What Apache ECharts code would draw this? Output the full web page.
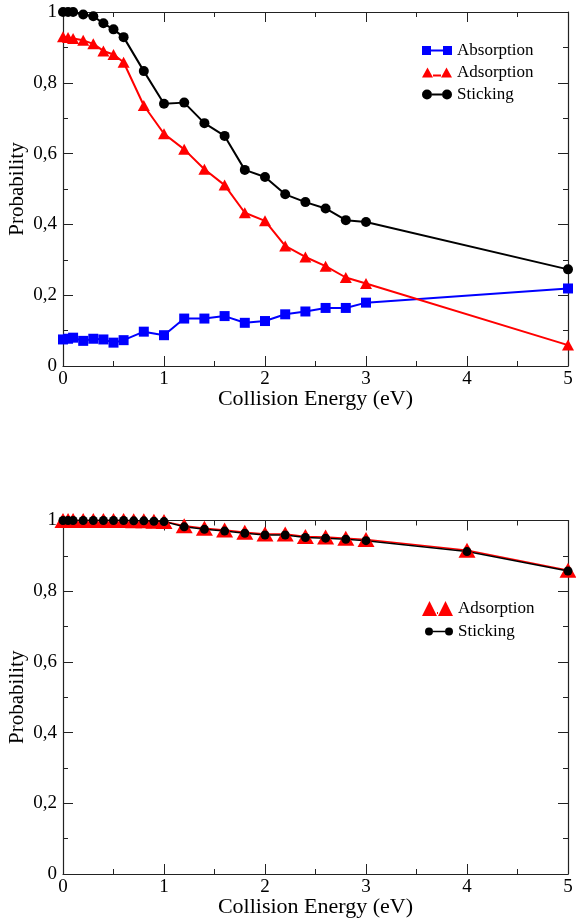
<!DOCTYPE html>
<html>
<head>
<meta charset="utf-8">
<script src="https://cdn.jsdelivr.net/npm/echarts@6/dist/echarts.min.js"></script>
<style>
  html, body { margin: 0; padding: 0; background: #fff; }
  #chart { width: 576px; height: 918px; }
</style>
</head>
<body>
<div id="chart"></div>
<script>
// top panel
const energiesTop = [0, 0.05, 0.1, 0.2, 0.3, 0.4, 0.5, 0.6, 0.8, 1.0, 1.2, 1.4, 1.6, 1.8, 2.0, 2.2, 2.4, 2.6, 2.8, 3.0, 5.0]
const absorptionTop = [0.075, 0.077, 0.080, 0.071, 0.077, 0.075, 0.066, 0.073, 0.097, 0.087, 0.134, 0.134, 0.141, 0.122, 0.127, 0.146, 0.154, 0.164, 0.164, 0.179, 0.219]
const adsorptionTop = [0.930, 0.928, 0.925, 0.920, 0.910, 0.890, 0.880, 0.858, 0.736, 0.656, 0.612, 0.556, 0.511, 0.433, 0.410, 0.339, 0.308, 0.282, 0.250, 0.233, 0.059]
const stickingTop = [1.0, 1.0, 1.0, 0.993, 0.988, 0.968, 0.951, 0.929, 0.833, 0.741, 0.744, 0.686, 0.650, 0.554, 0.534, 0.485, 0.463, 0.445, 0.412, 0.407, 0.273]

// bottom panel
const energiesBottom = [0, 0.05, 0.1, 0.2, 0.3, 0.4, 0.5, 0.6, 0.7, 0.8, 0.9, 1.0, 1.2, 1.4, 1.6, 1.8, 2.0, 2.2, 2.4, 2.6, 2.8, 3.0, 4.0, 5.0]
const adsorptionBottom = [1.0, 1.0, 1.0, 1.0, 1.0, 1.0, 1.0, 1.0, 0.999, 0.999, 0.998, 0.997, 0.985, 0.978, 0.973, 0.967, 0.962, 0.962, 0.955, 0.953, 0.950, 0.946, 0.916, 0.859]
const stickingBottom = [1.0, 1.0, 1.0, 1.0, 1.0, 1.0, 1.0, 1.0, 0.999, 0.999, 0.998, 0.997, 0.982, 0.975, 0.970, 0.964, 0.959, 0.959, 0.952, 0.950, 0.947, 0.943, 0.912, 0.857]

const xTicks = [0, 1, 2, 3, 4, 5]
const yTicks = [0, 0.2, 0.4, 0.6, 0.8, 1]

const FONT = 'Liberation Serif'
const INK = '#222'

const pairs = (xs, ys) => xs.map((x, i) => [x, ys[i]])
const fmtY = (v) => String(v).replace('.', ',')

const tickStyle = { show: true, inside: true, length: 10, lineStyle: { color: INK, width: 1 } }
const minorStyle = { show: true, splitNumber: 2, length: 5, lineStyle: { color: INK, width: 1 } }

const xAxisFor = (grid, pos, labels) => ({
  type: 'value', gridIndex: grid, position: pos,
  min: xTicks[0], max: xTicks[xTicks.length - 1], interval: 1,
  axisLine: { show: true, onZero: false, lineStyle: { color: INK, width: 1.2 } },
  axisTick: tickStyle,
  minorTick: minorStyle,
  splitLine: { show: false },
  axisLabel: { show: labels, color: '#000', fontFamily: FONT, fontSize: 19, margin: 4 },
  name: labels ? 'Collision Energy (eV)' : '',
  nameLocation: 'middle', nameGap: 22, nameMoveOverlap: false,
  nameTextStyle: { color: '#000', fontFamily: FONT, fontSize: 22 }
})

const yAxisFor = (grid, pos, labels) => ({
  type: 'value', gridIndex: grid, position: pos,
  min: yTicks[0], max: yTicks[yTicks.length - 1], interval: 0.2,
  axisLine: { show: true, onZero: false, lineStyle: { color: INK, width: 1.2 } },
  axisTick: tickStyle,
  minorTick: minorStyle,
  splitLine: { show: false },
  axisLabel: { show: labels, color: '#000', fontFamily: FONT, fontSize: 19, margin: 6, formatter: fmtY },
  name: labels ? 'Probability' : '',
  nameLocation: 'middle', nameGap: 35, nameMoveOverlap: false,
  nameTextStyle: { color: '#000', fontFamily: FONT, fontSize: 21 }
})

const iconSquares = 'path://M0,0H9V9H0Z M9,3.5H21V5.5H9Z M21,0H30V9H21Z'
const iconTriangles = 'path://M0,10L5.5,0L11,10Z M11,7H19V9H11Z M19,10L24.5,0L30,10Z'
const iconCircles = 'path://M0,5a5,5 0 1,0 10,0a5,5 0 1,0 -10,0Z M10,4H20V6H10Z M20,5a5,5 0 1,0 10,0a5,5 0 1,0 -10,0Z'

const lineSeries = (name, xs, ys, color, symbol, size, width, grid) => ({
  name, type: 'line',
  xAxisIndex: grid * 2, yAxisIndex: grid * 2,
  data: pairs(xs, ys),
  symbol, symbolSize: size, showSymbol: true, clip: false,
  lineStyle: { color, width },
  itemStyle: { color },
  emphasis: { disabled: true },
  animation: false
})

const legendText = { color: '#000', fontFamily: FONT, fontSize: 17 }

const option = {
  backgroundColor: '#fff',
  animation: false,
  grid: [
    { left: 63, right: 8, top: 12, height: 354, containLabel: false, outerBoundsMode: 'none' },
    { left: 63, right: 8, top: 520.5, height: 353.5, containLabel: false, outerBoundsMode: 'none' }
  ],
  xAxis: [
    xAxisFor(0, 'bottom', true), xAxisFor(0, 'top', false),
    xAxisFor(1, 'bottom', true), xAxisFor(1, 'top', false)
  ],
  yAxis: [
    yAxisFor(0, 'left', true), yAxisFor(0, 'right', false),
    yAxisFor(1, 'left', true), yAxisFor(1, 'right', false)
  ],
  legend: [
    {
      orient: 'vertical', left: 422, top: 42, padding: 0,
      itemWidth: 30, itemHeight: 10, itemGap: 5, selectedMode: false,
      textStyle: legendText,
      data: [
        { name: 'Absorption', icon: iconSquares },
        { name: 'Adsorption', icon: iconTriangles },
        { name: 'Sticking', icon: iconCircles }
      ]
    },
    {
      orient: 'vertical', left: 422, top: 600, padding: 0,
      itemWidth: 31, itemHeight: 15, itemGap: 8, selectedMode: false,
      textStyle: legendText,
      data: [{ name: 'Adsorption ', icon: 'path://M0,15L7.5,0L15,15Z M15,11H16V13H15Z M16,15L23.5,0L31,15Z' }]
    },
    {
      orient: 'vertical', left: 425, top: 623, padding: 0,
      itemWidth: 28, itemHeight: 8, selectedMode: false,
      textStyle: legendText,
      data: [{ name: 'Sticking ', icon: 'path://M0,4a4,4 0 1,0 8,0a4,4 0 1,0 -8,0Z M8,3.3H20V4.7H8Z M20,4a4,4 0 1,0 8,0a4,4 0 1,0 -8,0Z' }]
    }
  ],
  series: [
    lineSeries('Absorption', energiesTop, absorptionTop, '#0000ff', 'rect', 10, 2, 0),
    lineSeries('Adsorption', energiesTop, adsorptionTop, '#ff0000', 'triangle', [12, 11], 2, 0),
    lineSeries('Sticking', energiesTop, stickingTop, '#000000', 'circle', 10, 2, 0),
    lineSeries('Adsorption ', energiesBottom, adsorptionBottom, '#ff0000', 'triangle', [17, 15], 1.5, 1),
    lineSeries('Sticking ', energiesBottom, stickingBottom, '#000000', 'circle', 9, 1.5, 1)
  ]
}

const myChart = echarts.init(document.getElementById('chart'), null, { renderer: 'canvas' })
myChart.setOption(option)
</script>
</body>
</html>
